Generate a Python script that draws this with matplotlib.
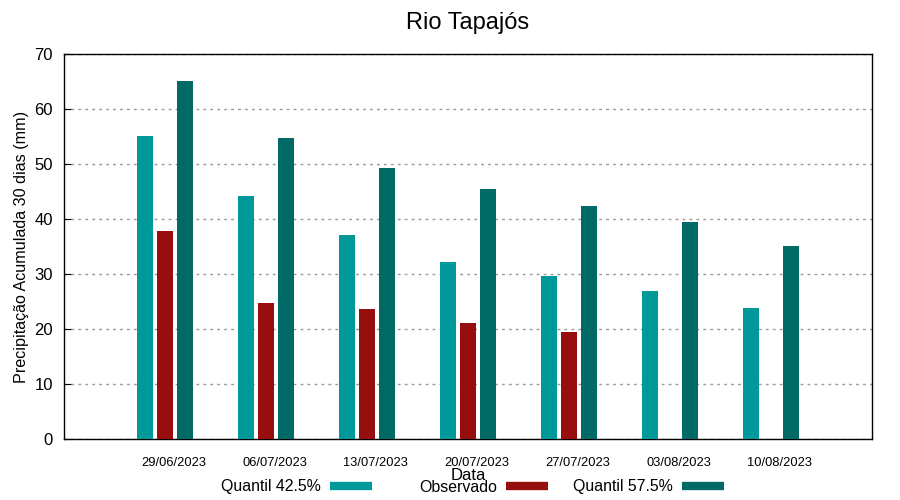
import numpy as np
import matplotlib.pyplot as plt
from matplotlib.lines import Line2D

plt.rcParams['font.family'] = ['Liberation Sans', 'DejaVu Sans']

# Dates and values (mm)
datas = ["29/06/2023", "06/07/2023", "13/07/2023", "20/07/2023",
         "27/07/2023", "03/08/2023", "10/08/2023"]
quantil_425 = [55.1, 44.2, 37.1, 32.2, 29.6, 26.9, 23.8]
observado = [37.8, 24.7, 23.6, 21.1, 19.5, np.nan, np.nan]
quantil_575 = [65.1, 54.7, 49.3, 45.5, 42.4, 39.5, 35.1]

c_q1 = "#009999"
c_obs = "#960e0e"
c_q2 = "#006a66"

x = np.arange(len(datas))

fig = plt.figure(figsize=(9, 5), dpi=100)
ax = fig.add_axes([64/900, 1 - 439/500, (872 - 64)/900, (439 - 54)/500])

ax.bar(x - 0.2, quantil_425, width=0.16, color=c_q1, zorder=3)
ax.bar(x, observado, width=0.165, color=c_obs, zorder=3)
ax.bar(x + 0.2, quantil_575, width=0.16, color=c_q2, zorder=3)

ax.set_xlim(-1, 7)
ax.set_ylim(0, 70)
ax.set_yticks(range(0, 71, 10))
ax.set_xticks(x + 0.085)
ax.set_xticklabels(datas, fontsize=9.3)
ax.tick_params(axis='x', length=0, pad=13)
ax.tick_params(axis='y', direction='in', length=5, labelsize=12, pad=8)
ax.yaxis.grid(True, linestyle=(0, (2, 3)), color="#999999", linewidth=1)
ax.set_axisbelow(True)
for s in ax.spines.values():
    s.set_linewidth(1)

ax.set_title("Rio Tapajós", fontsize=17, pad=18)
ax.set_xlabel("Data", fontsize=12, labelpad=-1)
ax.set_ylabel("Precipitação Acumulada 30 dias (mm)", fontsize=11.6, labelpad=4)

# gnuplot-style key: equal-width columns, text right-aligned before the sample
labels = ["Quantil 42.5%", "Observado", "Quantil 57.5%"]
colors = [c_q1, c_obs, c_q2]
key_right = [372, 548, 724]
for lab, col, xr in zip(labels, colors, key_right):
    h = Line2D([], [], color=col, lw=6, solid_capstyle='butt')
    fig.legend([h], [lab], loc='center right', bbox_to_anchor=(xr/900, 1 - 487/500),
               frameon=False, markerfirst=False, fontsize=11.4,
               handlelength=2.65, handletextpad=0.55,
               borderpad=0, borderaxespad=0)

plt.savefig("out.png", dpi=100)
